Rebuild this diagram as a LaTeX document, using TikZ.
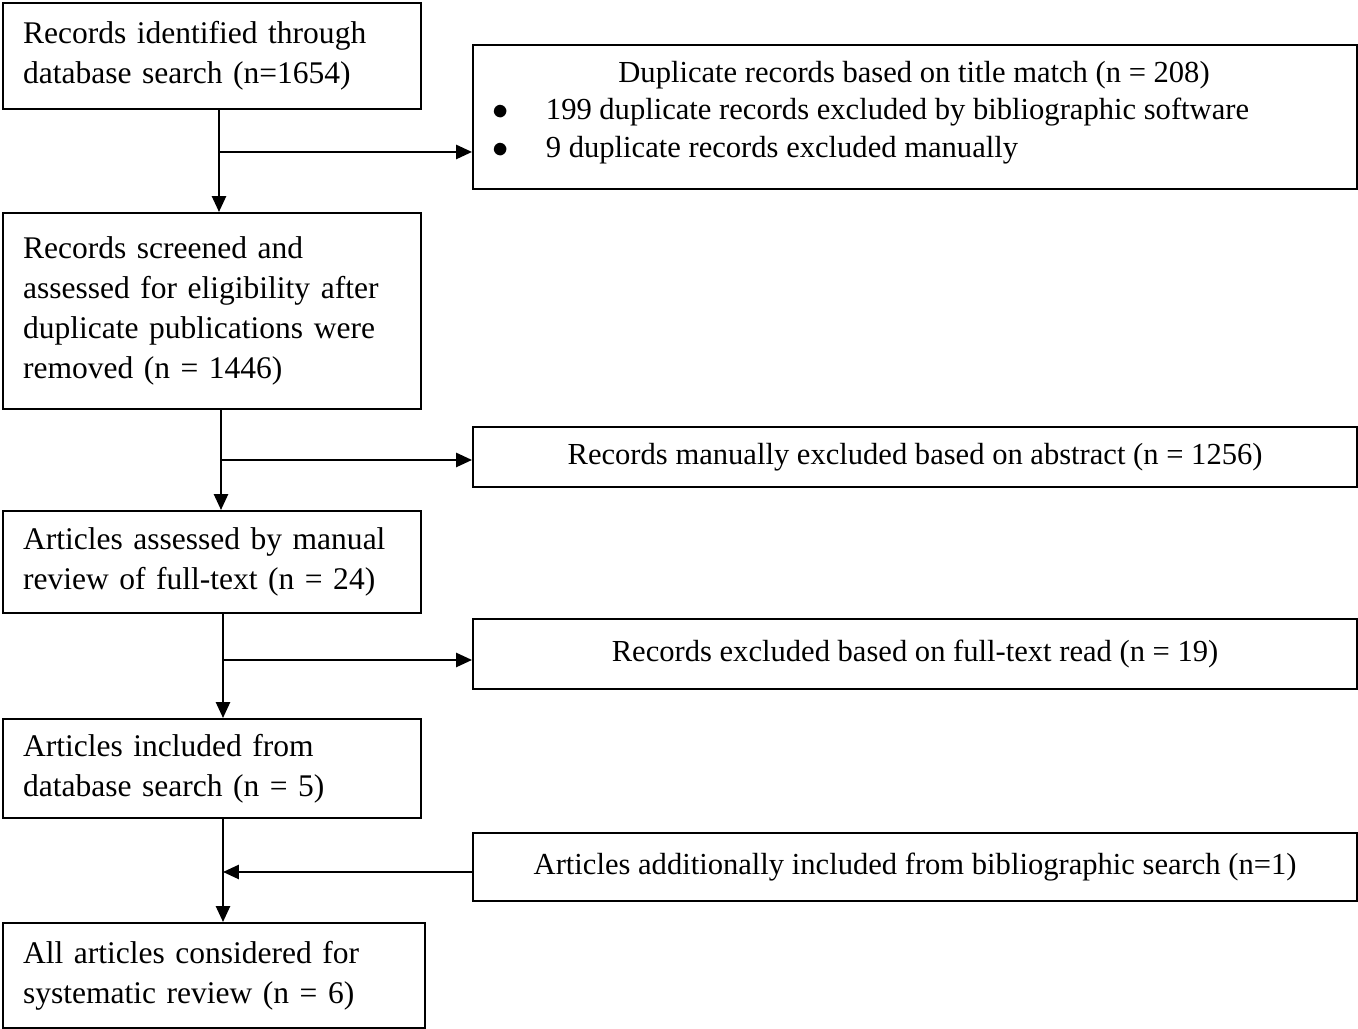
\documentclass[tikz,border=0pt]{standalone}
\usepackage{fontspec}
\setmainfont{Liberation Serif}
\usetikzlibrary{positioning,arrows.meta}
\tikzset{
  leftbox/.style={draw=black,line width=0.6pt,anchor=north west,text width=3.78cm,
    inner xsep=0.2cm,inner ysep=0pt,align=left,font=\fontsize{8.97}{11.4}\selectfont},
  rightbox/.style={draw=black,line width=0.6pt,anchor=north west,minimum width=8.84cm,
    inner sep=0pt,align=center,font=\fontsize{8.7}{10.8}\selectfont},
  flow/.style={line width=0.6pt,-{Triangle[length=4.5pt,width=4pt]}},
  link/.style={line width=0.6pt}
}

\begin{document}
\begin{tikzpicture}
      \useasboundingbox (0,0) rectangle (13.58,10.29);
      % left column
      \node[leftbox,minimum height=1.06cm] (rec) at (0.02,10.27)
        {Records identified through\\database search (n=1654)};
      \node[leftbox,minimum height=1.96cm] (scr) at (0.02,8.17)
        {Records screened and\\assessed for eligibility after\\duplicate publications were\\removed (n = 1446)};
      \node[leftbox,minimum height=1.02cm] (full) at (0.02,5.19)
        {Articles assessed by manual\\review of full-text (n = 24)};
      \node[leftbox,minimum height=0.99cm] (inc) at (0.02,3.11)
        {Articles included from\\database search (n = 5)};
      \node[leftbox,minimum height=1.05cm,text width=3.82cm] (all) at (0.02,1.07)
        {All articles considered for\\systematic review (n = 6)};
      % right column
      \node[rightbox,minimum height=1.44cm] (dup) at (4.72,9.85) {};
      \node[anchor=north,font=\fontsize{8.7}{10.8}\selectfont] (duptitle) at (9.14,9.80)
        {Duplicate records based on title match (n = 208)};
      \node[anchor=north west,align=left,inner sep=0pt,font=\fontsize{8.7}{10.8}\selectfont] (duplist) at (4.92,9.32)
        {$\bullet$\hspace{0.37cm}199 duplicate records excluded by bibliographic software\\
         $\bullet$\hspace{0.37cm}9 duplicate records excluded manually};
      \node[rightbox,minimum height=0.60cm] (abs) at (4.72,6.03)
        {Records manually excluded based on abstract (n = 1256)};
      \node[rightbox,minimum height=0.70cm] (read) at (4.72,4.11)
        {Records excluded based on full-text read (n = 19)};
      \node[rightbox,minimum height=0.68cm] (bib) at (4.72,1.97)
        {Articles additionally included from bibliographic search (n=1)};
      % junctions
      \coordinate (j1) at (2.19,8.77);
      \coordinate (j2) at (2.21,5.69);
      \coordinate (j3) at (2.23,3.69);
      \coordinate (j4) at (2.23,1.57);
      % arrows
      \draw[flow] (rec.south -| j1) -- (scr.north -| j1);
      \draw[flow] (scr.south -| j2) -- (full.north -| j2);
      \draw[flow] (full.south -| j3) -- (inc.north -| j3);
      \draw[flow] (inc.south -| j4) -- (all.north -| j4);
      \draw[flow] (j1) -- (j1 -| dup.west);
      \draw[flow] (j2) -- (j2 -| abs.west);
      \draw[flow] (j3) -- (j3 -| read.west);
      \draw[flow] (j4 -| bib.west) -- (j4);
\end{tikzpicture}
\end{document}
